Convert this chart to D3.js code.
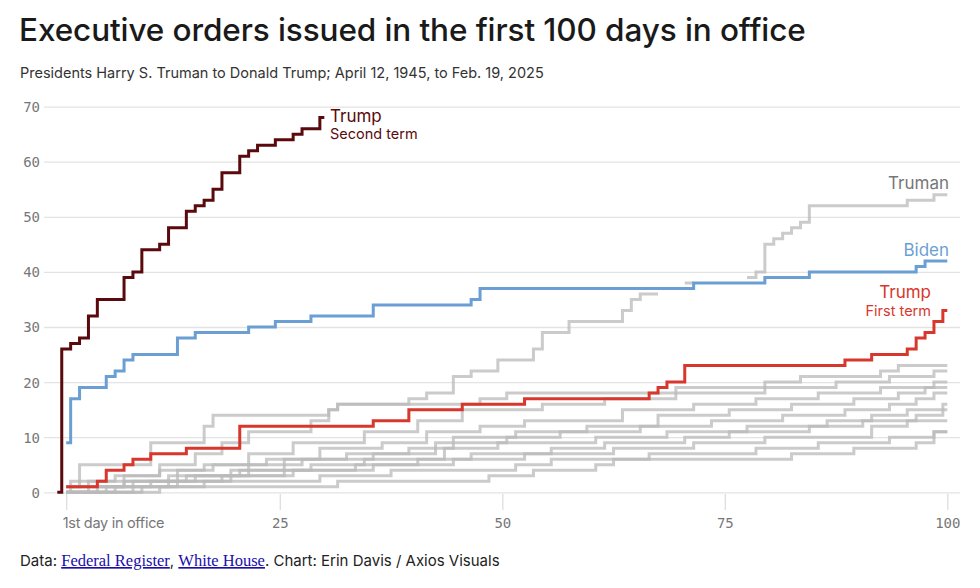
<!DOCTYPE html>
<html>
<head>
<meta charset="utf-8">
<title>Executive orders | D3</title>
<script src="https://d3js.org/d3.v7.min.js"></script>
<style>
  body { margin: 0; background: #fff; }
  svg { display: block; }
  .title { font-family: "Inter", sans-serif; font-weight: 500; font-size: 31.5px; fill: #1a1a1a; letter-spacing: -0.1px; }
  .sub { font-family: "Inter", sans-serif; font-size: 14.5px; fill: #333; }
  .axis text { font-family: "DejaVu Sans Mono", monospace; font-size: 14px; fill: #777; }
  .axis .domain { display: none; }
  .lab { font-family: "Inter", sans-serif; }
  .foot { font-family: "Inter", sans-serif; font-size: 15px; fill: #222; }
  .link { font-family: "Liberation Serif", "Times New Roman", serif; fill: #1a0dab; text-decoration: underline; font-size: 16.5px; }
</style>
</head>
<body>
<script>
// ticks
var xTicks = [1, 25, 50, 75, 100];
var yTicks = [0, 10, 20, 30, 40, 50, 60, 70];

// cumulative executive orders, [day, total] at each day the total changes
var trump2 = [[0,0],[1,26],[2,27],[3,28],[4,32],[5,35],[8,39],[9,40],[10,44],[12,45],[13,48],[15,51],[16,52],[17,53],[18,55],[19,58],[21,61],[22,62],[23,63],[25,64],[27,65],[28,66],[30,68]];
var biden = [[1,9],[2,17],[3,19],[6,21],[7,22],[8,24],[9,25],[14,28],[16,29],[22,30],[25,31],[29,32],[36,34],[47,35],[48,37],[72,38],[80,39],[85,40],[97,41],[98,42]];
var trump1 = [[1,1],[5,2],[6,4],[8,5],[9,6],[11,7],[15,8],[21,12],[36,13],[40,15],[46,16],[53,17],[67,18],[68,19],[69,20],[71,23],[89,24],[92,25],[96,26],[97,28],[98,29],[99,31],[100,33]];
// null = no record for that stretch
var truman = [[1,1],[2,2],[3,5],[11,9],[17,12],[18,14],[31,15],[32,16],[40,17],[42,18],[45,21],[47,22],[50,24],[54,26],[55,29],[58,31],[64,33],[65,35],[66,36],[68,null],[71,38],[72,null],[78,39],[79,40],[80,45],[81,46],[82,47],[83,48],[84,49],[85,52],[96,53],[99,54]];
var otherA = [[1,0],[10,1],[32,2],[49,3],[54,4],[61,5],[63,6],[83,7],[90,8],[97,9],[99,11]];
var otherB = [[1,0],[7,1],[13,2],[20,3],[27,4],[36,5],[45,6],[53,7],[63,8],[72,9],[80,10],[92,12],[96,13]];
var otherC = [[1,0],[9,1],[14,2],[19,3],[26,4],[34,5],[41,6],[47,7],[56,8],[62,9],[71,10],[76,11],[85,12],[91,13],[97,14],[100,15]];
var otherD = [[1,0],[2,1],[8,2],[15,3],[21,4],[29,5],[35,6],[44,8],[50,9],[61,10],[69,11],[78,12],[87,13],[92,14],[96,15],[100,16]];
var otherE = [[1,0],[4,1],[8,2],[13,3],[22,5],[28,6],[36,7],[43,9],[51,10],[57,11],[66,12],[74,13],[82,14],[89,15],[94,16],[97,17],[99,18]];
var otherF = [[1,0],[6,1],[11,2],[16,3],[20,4],[26,6],[33,7],[40,8],[45,10],[52,11],[60,12],[68,14],[76,15],[83,16],[90,17],[95,18],[98,19]];
var otherG = [[1,1],[3,2],[7,3],[12,4],[17,5],[24,6],[30,8],[37,9],[42,11],[48,12],[53,13],[64,15],[72,16],[79,17],[86,18],[93,19],[99,20]];
var otherH = [[1,0],[5,1],[9,2],[14,4],[18,5],[22,7],[27,9],[35,11],[41,13],[46,15],[55,16],[62,17],[70,18],[80,19],[88,20],[94,21],[99,22]];
var otherI = [[1,1],[4,2],[8,3],[12,5],[16,7],[19,9],[22,11],[29,13],[31,15],[32,16],[48,17],[51,18],[70,19],[80,20],[84,21],[93,22],[95,23]];
var otherJ = [[1,0],[12,1],[17,2],[30,3],[38,4],[52,5],[56,6],[67,7],[79,8],[86,9],[94,10],[99,11]];

var width = 980;
var height = 588;

var svg = d3.select("body").append("svg")
  .attr("width", width)
  .attr("height", height);

var x = d3.scaleLinear().domain([1, 100]).range([66.2, 947.3]);
var y = d3.scaleLinear().domain([0, 70]).range([492.3, 106.6]);

// title
svg.append("text").attr("class", "title").attr("x", 19).attr("y", 41)
  .text("Executive orders issued in the first 100 days in office");
svg.append("text").attr("class", "sub").attr("x", 20).attr("y", 78)
  .text("Presidents Harry S. Truman to Donald Trump; April 12, 1945, to Feb. 19, 2025");

// grid + y labels
var yAxis = svg.append("g").attr("class", "axis").attr("transform", "translate(44,0)")
  .call(d3.axisLeft(y).tickValues(yTicks).tickSize(-916).tickPadding(4));
yAxis.selectAll("line").attr("stroke", "#e3e3e3").attr("stroke-width", 1.3);
yAxis.selectAll("text").attr("dy", "0.35em");

// x ticks
var xAxis = svg.append("g").attr("class", "axis").attr("transform", "translate(0,494)")
  .call(d3.axisBottom(x).tickValues(xTicks).tickSize(16).tickPadding(8)
    .tickFormat(function(d){ return d === 1 ? "1st day in office" : d; }));
xAxis.selectAll("line").attr("stroke", "#dedede").attr("stroke-width", 1.3);
xAxis.selectAll("text").filter(function(d){ return d === 1; })
  .attr("text-anchor", "start").attr("dx", -4)
  .style("font-family", "Inter, sans-serif").style("font-size", "14.5px").style("letter-spacing", "-0.3px");

// turn change points into horizontal runs
function runs(pts, end) {
  var out = [];
  pts.forEach(function(p, i) {
    var next = pts[i + 1];
    var x0 = i === 0 ? p[0] : p[0] - 0.5;
    var x1 = next ? next[0] - 0.5 : end;
    if (p[1] === null) { out.push([x0, null]); return; }
    out.push([x0, p[1]], [x1, p[1]]);
  });
  return out;
}

var line = d3.line()
  .defined(function(d){ return d[1] !== null; })
  .x(function(d){ return x(d[0]); })
  .y(function(d){ return y(d[1]); })
  .curve(d3.curveStepAfter);

var grays = [otherA, otherB, otherC, otherD, otherE, otherF, otherG, otherH, otherI, otherJ, truman];

svg.append("g").selectAll("path")
  .data(grays)
  .enter()
  .append("path")
  .attr("fill", "none")
  .attr("stroke", "#b9b9b9")
  .attr("stroke-opacity", 0.75)
  .attr("stroke-width", 3)
  .attr("d", function(d){ return line(runs(d, 100)); });

svg.append("path").attr("fill", "none").attr("stroke", "#d7372c").attr("stroke-width", 3)
  .attr("d", line(runs(trump1, 100)));
svg.append("path").attr("fill", "none").attr("stroke", "#6b9fd3").attr("stroke-width", 3)
  .attr("d", line(runs(biden, 100)));
svg.append("path").attr("fill", "none").attr("stroke", "#5a0a0c").attr("stroke-width", 3)
  .attr("d", line(runs(trump2, 30)));

// line labels
svg.append("text").attr("class", "lab").attr("x", 330).attr("y", 122).attr("fill", "#5a0a0c").style("font-size", "17px").text("Trump");
svg.append("text").attr("class", "lab").attr("x", 330).attr("y", 139).attr("fill", "#5a0a0c").style("font-size", "14.5px").text("Second term");
svg.append("text").attr("class", "lab").attr("x", 949).attr("y", 189).attr("text-anchor", "end").attr("fill", "#777").style("font-size", "17px").text("Truman");
svg.append("text").attr("class", "lab").attr("x", 949).attr("y", 256).attr("text-anchor", "end").attr("fill", "#6b9fd3").style("font-size", "17px").text("Biden");
svg.append("text").attr("class", "lab").attr("x", 931).attr("y", 298).attr("text-anchor", "end").attr("fill", "#d7372c").style("font-size", "17px").text("Trump");
svg.append("text").attr("class", "lab").attr("x", 931).attr("y", 316).attr("text-anchor", "end").attr("fill", "#d7372c").style("font-size", "14.5px").text("First term");

// footer
var foot = svg.append("text").attr("class", "foot").attr("x", 20).attr("y", 566);
foot.append("tspan").text("Data: ");
foot.append("tspan").attr("class", "link").text("Federal Register");
foot.append("tspan").text(", ");
foot.append("tspan").attr("class", "link").text("White House");
foot.append("tspan").text(". Chart: Erin Davis / Axios Visuals");
</script>
</body>
</html>
